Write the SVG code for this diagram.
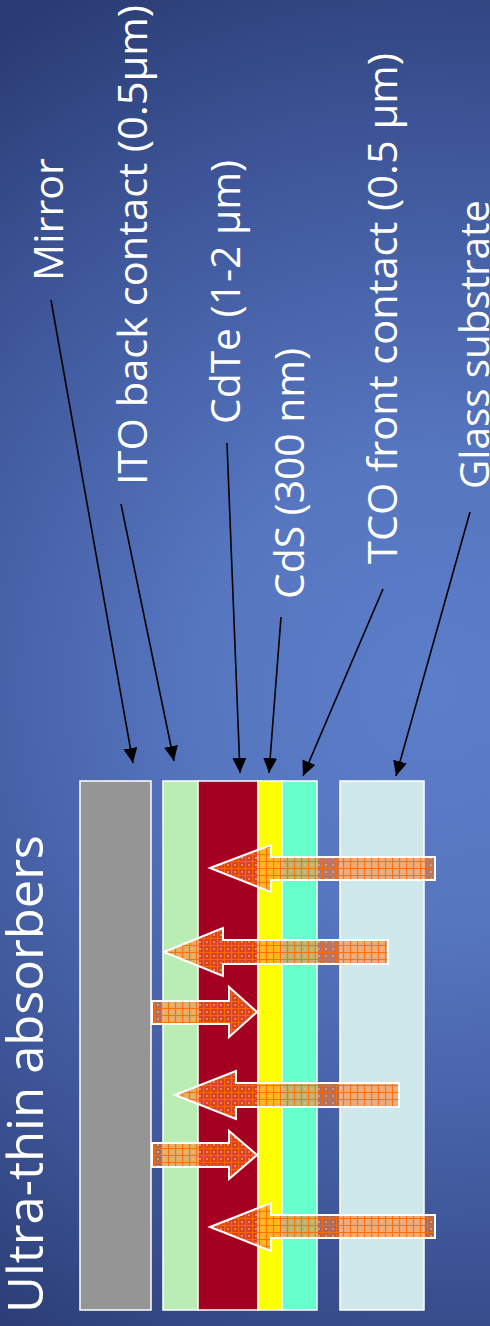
<svg xmlns="http://www.w3.org/2000/svg" width="490" height="1326" viewBox="0 0 490 1326">
  <defs>
    <radialGradient id="bg" gradientUnits="userSpaceOnUse" cx="430" cy="690" r="780">
      <stop offset="0" stop-color="#5c7dc8"/>
      <stop offset="0.3" stop-color="#5676c0"/>
      <stop offset="0.7" stop-color="#3e5699"/>
      <stop offset="1" stop-color="#2a3c74"/>
    </radialGradient>
    <pattern id="hatch" patternUnits="userSpaceOnUse" width="7" height="7">
      <rect width="7" height="7" fill="#ff7a28" fill-opacity="0.55"/>
      <path d="M0 0.5H7M0.5 0V7" stroke="#ff6a00" stroke-width="1.2" stroke-opacity="0.9"/>
      <rect x="3" y="3" width="2" height="2" fill="#ffb070" fill-opacity="0.6"/>
    </pattern>
    <marker id="tri" markerUnits="userSpaceOnUse" markerWidth="16" markerHeight="14" viewBox="0 0 16 14" refX="15" refY="7" orient="auto">
      <path d="M0 0L15 7L0 14Z" fill="#000"/>
    </marker>
  </defs>
  <style>
    .lbl { font-family: "Open Sans", "Liberation Sans", sans-serif; font-size: 40px; fill: #ffffff; }
    .title { font-family: "Open Sans", "Liberation Sans", sans-serif; font-size: 50px; fill: #ffffff; }
    .layer { stroke: #ffffff; stroke-width: 1.5; }
    .ray { fill: url(#hatch); stroke: #ffffff; stroke-width: 2; stroke-linejoin: miter; }
    .ptr { stroke: #000; stroke-width: 1.6; fill: none; marker-end: url(#tri); }
  </style>

  <rect width="490" height="1326" fill="url(#bg)"/>

  <g id="title">
    <text class="title" transform="translate(43,1313) rotate(-90)" textLength="478" lengthAdjust="spacingAndGlyphs">Ultra-thin absorbers</text>
  </g>

  <g id="mirror">
    <rect class="layer" x="80" y="781" width="71" height="529" fill="#959595"/>
    <text class="lbl" transform="translate(63,281) rotate(-90)" textLength="123" lengthAdjust="spacingAndGlyphs">Mirror</text>
  </g>
  <g id="ito">
    <rect class="layer" x="163" y="781" width="35" height="529" fill="#b9edb3"/>
    <text class="lbl" transform="translate(147,485) rotate(-90)" textLength="480" lengthAdjust="spacingAndGlyphs">ITO back contact (0.5µm)</text>
  </g>
  <g id="cdte">
    <rect class="layer" x="198" y="781" width="60" height="529" fill="#a50021"/>
    <text class="lbl" transform="translate(240,424) rotate(-90)" textLength="264" lengthAdjust="spacingAndGlyphs">CdTe (1-2 µm)</text>
  </g>
  <g id="cds">
    <rect class="layer" x="258" y="781" width="24" height="529" fill="#ffff00"/>
    <text class="lbl" transform="translate(304,599) rotate(-90)" textLength="251" lengthAdjust="spacingAndGlyphs">CdS (300 nm)</text>
  </g>
  <g id="tco">
    <rect class="layer" x="282" y="781" width="35" height="529" fill="#66ffcc"/>
    <text class="lbl" transform="translate(397,564) rotate(-90)" textLength="511" lengthAdjust="spacingAndGlyphs">TCO front contact (0.5 µm)</text>
  </g>
  <g id="glass">
    <rect class="layer" x="340" y="781" width="84" height="529" fill="#cfe8ec"/>
    <text class="lbl" transform="translate(489,489) rotate(-90)" textLength="289" lengthAdjust="spacingAndGlyphs">Glass substrate</text>
  </g>

  <g id="light-rays">
    <polygon class="ray" points="210,868 271,845 271,857 435,857 435,880 271,880 271,892"/>
    <polygon class="ray" points="164,952 223,928 223,940 388,940 388,964 223,964 223,976"/>
    <polygon class="ray" points="152,1001 229,1001 229,987 257,1012 229,1037 229,1024 152,1024"/>
    <polygon class="ray" points="175,1095 236,1071 236,1083 399,1083 399,1107 236,1107 236,1119"/>
    <polygon class="ray" points="152,1143 229,1143 229,1131 257,1155 229,1179 229,1167 152,1167"/>
    <polygon class="ray" points="210,1227 271,1203 271,1215 435,1215 435,1238 271,1238 271,1251"/>
  </g>

  <g id="connectors">
    <line class="ptr" x1="51" y1="300" x2="133" y2="763"/>
    <line class="ptr" x1="121" y1="504" x2="174" y2="761"/>
    <line class="ptr" x1="227" y1="443" x2="240" y2="773"/>
    <line class="ptr" x1="281" y1="617" x2="269" y2="773"/>
    <line class="ptr" x1="383" y1="589" x2="303" y2="776"/>
    <line class="ptr" x1="470" y1="512" x2="396" y2="776"/>
  </g>
</svg>
